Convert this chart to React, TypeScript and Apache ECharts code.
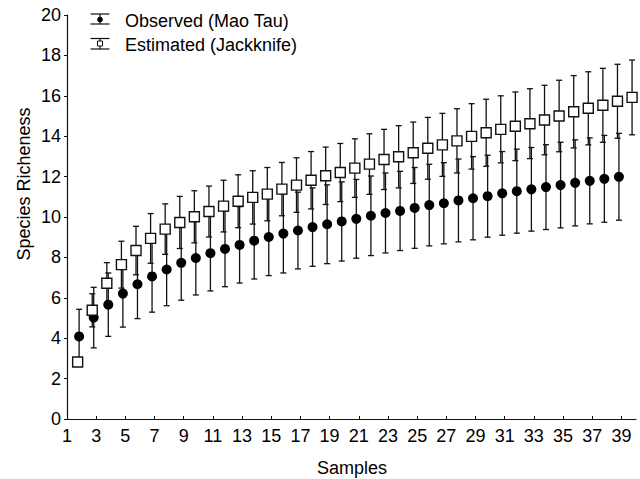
import React, { useEffect, useRef } from "react";
import * as echarts from "echarts";

// Sample numbers (x) for each series
const observedSamples = [2, 3, 4, 5, 6, 7, 8, 9, 10, 11, 12, 13, 14, 15, 16, 17, 18, 19, 20, 21, 22, 23, 24, 25, 26, 27, 28, 29, 30, 31, 32, 33, 34, 35, 36, 37, 38, 39];
const observedMean = [4.09, 5.02, 5.66, 6.21, 6.67, 7.06, 7.4, 7.73, 7.97, 8.21, 8.42, 8.62, 8.83, 9.01, 9.18, 9.33, 9.5, 9.64, 9.78, 9.91, 10.06, 10.2, 10.3, 10.45, 10.59, 10.68, 10.82, 10.93, 11.03, 11.17, 11.28, 11.37, 11.48, 11.58, 11.69, 11.79, 11.89, 11.99];
const observedSD = [1.34, 1.5, 1.57, 1.66, 1.7, 1.77, 1.79, 1.85, 1.83, 1.87, 1.87, 1.89, 1.9, 1.91, 1.95, 1.9, 1.94, 1.95, 1.96, 1.95, 1.97, 1.98, 1.96, 2.0, 2.02, 2.01, 2.05, 2.06, 2.03, 2.07, 2.08, 2.07, 2.1, 2.12, 2.13, 2.13, 2.15, 2.15];

const estimatedSamples = [2, 3, 4, 5, 6, 7, 8, 9, 10, 11, 12, 13, 14, 15, 16, 17, 18, 19, 20, 21, 22, 23, 24, 25, 26, 27, 28, 29, 30, 31, 32, 33, 34, 35, 36, 37, 38, 39, 40];
const estimatedMean = [2.82, 5.38, 6.72, 7.64, 8.34, 8.94, 9.4, 9.73, 10.01, 10.27, 10.54, 10.78, 10.97, 11.13, 11.38, 11.58, 11.82, 12.04, 12.2, 12.42, 12.62, 12.85, 12.98, 13.18, 13.4, 13.57, 13.77, 13.99, 14.17, 14.34, 14.49, 14.62, 14.8, 15.0, 15.21, 15.38, 15.53, 15.73, 15.92];
const estimatedSD = [0, 0.82, 1.02, 1.16, 1.2, 1.23, 1.25, 1.29, 1.29, 1.26, 1.28, 1.31, 1.32, 1.32, 1.32, 1.35, 1.42, 1.42, 1.44, 1.45, 1.5, 1.49, 1.54, 1.52, 1.53, 1.56, 1.59, 1.62, 1.66, 1.66, 1.7, 1.73, 1.72, 1.77, 1.79, 1.81, 1.83, 1.83, 1.85];

const xTickValues = [1, 3, 5, 7, 9, 11, 13, 15, 17, 19, 21, 23, 25, 27, 29, 31, 33, 35, 37, 39];
const yTickValues = [0, 2, 4, 6, 8, 10, 12, 14, 16, 18, 20];

const seriesNames = ["Observed (Mao Tau)", "Estimated (Jackknife)"];
const xAxisTitle = "Samples";
const yAxisTitle = "Species Richeness";

// small horizontal placement offsets of the markers as drawn in the reference
const OBS_SHIFT = -0.17;
const EST_SHIFT = -0.27;

const FONT = "'Liberation Sans', Arial, Helvetica, sans-serif";
const INK = "#111";

export default function App() {
  const ref = useRef<HTMLDivElement>(null);

  useEffect(() => {
    if (!ref.current) return;
    const chart = echarts.init(ref.current, undefined, { renderer: "svg" });

    const obsPts = observedSamples.map((s, i) => [s + OBS_SHIFT, observedMean[i]]);
    const estPts = estimatedSamples.map((s, i) => [s + EST_SHIFT, estimatedMean[i]]);
    const obsBars = observedSamples.map((s, i) => [s + OBS_SHIFT, observedMean[i] - observedSD[i], observedMean[i] + observedSD[i]]);
    const estBars = estimatedSamples.map((s, i) => [s + EST_SHIFT, estimatedMean[i] - estimatedSD[i], estimatedMean[i] + estimatedSD[i]]);

    const errRender = (params: any, api: any) => {
      const x = api.value(0);
      const lo = api.value(1);
      const hi = api.value(2);
      if (hi - lo <= 0) return { type: "group", children: [] };
      const p1 = api.coord([x, lo]);
      const p2 = api.coord([x, hi]);
      const w = 3;
      const st = { stroke: INK, lineWidth: 1.3 };
      return {
        type: "group",
        children: [
          { type: "line", shape: { x1: p1[0], y1: p1[1], x2: p2[0], y2: p2[1] }, style: st },
          { type: "line", shape: { x1: p1[0] - w, y1: p1[1], x2: p1[0] + w, y2: p1[1] }, style: st },
          { type: "line", shape: { x1: p2[0] - w, y1: p2[1], x2: p2[0] + w, y2: p2[1] }, style: st },
        ],
      };
    };

    const lx = 100;
    const legendLine = (x1: number, y1: number, x2: number, y2: number) => ({
      type: "line",
      shape: { x1, y1, x2, y2 },
      style: { stroke: INK, lineWidth: 1.2 },
      z: 10,
    });

    chart.setOption({
      animation: false,
      backgroundColor: "#ffffff",
      grid: { left: 67, right: 4, top: 15, bottom: 60, containLabel: false },
      xAxis: {
        type: "value",
        min: 1,
        max: 40,
        axisLine: { show: true, lineStyle: { color: INK, width: 1.2 } },
        axisTick: { show: true, inside: true, length: 3, customValues: xTickValues, lineStyle: { color: INK } },
        axisLabel: { show: true, customValues: xTickValues, margin: 8, fontSize: 18, color: "#000", fontFamily: FONT },
        splitLine: { show: false },
      },
      yAxis: {
        type: "value",
        min: 0,
        max: 20,
        interval: 2,
        axisLine: { show: true, lineStyle: { color: INK, width: 1.2 } },
        axisTick: { show: true, inside: false, length: 3, customValues: yTickValues, lineStyle: { color: INK } },
        axisLabel: { show: true, customValues: yTickValues, margin: 6, fontSize: 18, color: "#000", fontFamily: FONT },
        splitLine: { show: false },
      },
      series: [
        {
          type: "custom",
          name: seriesNames[0] + " error",
          renderItem: errRender,
          data: obsBars,
          encode: { x: 0, y: [1, 2] },
          z: 1,
          silent: true,
        },
        {
          type: "custom",
          name: seriesNames[1] + " error",
          renderItem: errRender,
          data: estBars,
          encode: { x: 0, y: [1, 2] },
          z: 1,
          silent: true,
        },
        {
          type: "scatter",
          name: seriesNames[0],
          data: obsPts,
          symbol: "circle",
          symbolSize: 10,
          itemStyle: { color: "#000", opacity: 1 },
          z: 2,
        },
        {
          type: "scatter",
          name: seriesNames[1],
          data: estPts,
          symbol: "rect",
          symbolSize: 10,
          itemStyle: { color: "#fff", borderColor: INK, borderWidth: 1.4, opacity: 1 },
          z: 3,
        },
      ],
      graphic: [
        // legend: observed
        legendLine(lx, 14, lx, 24),
        legendLine(lx - 9.5, 14, lx + 9.5, 14),
        legendLine(lx - 9.5, 24, lx + 9.5, 24),
        { type: "circle", shape: { cx: lx, cy: 19.5, r: 2.8 }, style: { fill: "#000" }, z: 11 },
        {
          type: "text",
          left: 125,
          top: 12,
          style: { text: seriesNames[0], fontSize: 18, fontFamily: FONT, fill: "#000" },
        },
        // legend: estimated
        legendLine(lx, 38.5, lx, 49),
        legendLine(lx - 9.5, 38.5, lx + 9.5, 38.5),
        legendLine(lx - 9.5, 49, lx + 9.5, 49),
        { type: "rect", shape: { x: lx - 2.5, y: 41, width: 5, height: 5 }, style: { fill: "#fff", stroke: INK, lineWidth: 1 }, z: 11 },
        {
          type: "text",
          left: 125,
          top: 36,
          style: { text: seriesNames[1], fontSize: 18, fontFamily: FONT, fill: "#000" },
        },
        // axis titles
        {
          type: "text",
          x: 352,
          y: 468,
          style: { text: xAxisTitle, fontSize: 18, fontFamily: FONT, fill: "#000", align: "center", verticalAlign: "middle" },
        },
        {
          type: "text",
          x: 24,
          y: 184,
          rotation: Math.PI / 2,
          style: { text: yAxisTitle, fontSize: 18, fontFamily: FONT, fill: "#000", align: "center", verticalAlign: "middle" },
        },
      ],
    });

    return () => chart.dispose();
  }, []);

  return (
    <div
      ref={ref}
      style={{ position: "fixed", left: 0, top: 0, width: 640, height: 479, background: "#fff" }}
    />
  );
}
